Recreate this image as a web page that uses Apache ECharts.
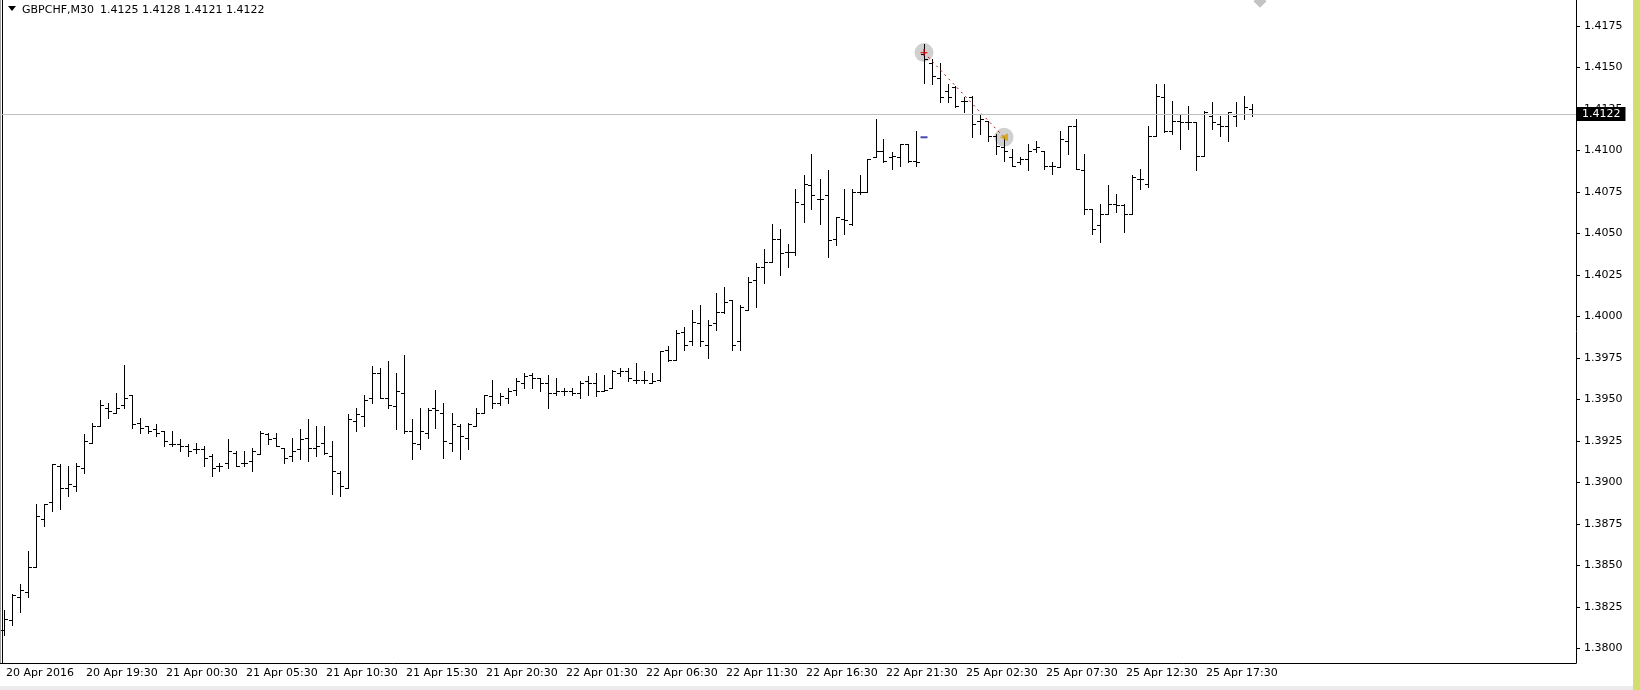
<!DOCTYPE html>
<html>
<head>
<meta charset="utf-8">
<title>GBPCHF,M30</title>
<script src="https://cdn.jsdelivr.net/npm/echarts@6/dist/echarts.min.js"></script>
<style>
html, body { margin: 0; padding: 0; background: #fff; }
#chart { width: 1640px; height: 690px; }
</style>
</head>
<body>
<div id="chart"></div>
<script>
// M30 bars (index 0 = 20 Apr 14:30)
var opens = [1.3811,1.3817,1.3831,1.3834,1.3849,1.3878,1.3888,1.3910,1.3897,1.3898,
  1.3909,1.3924,1.3934,1.3945,1.3942,1.3947,1.3953,1.3936,1.3934,1.3932,
  1.3931,1.3923,1.3923,1.3922,1.3920,1.3920,1.3916,1.3910,1.3912,1.3918,
  1.3912,1.3913,1.3917,1.3929,1.3927,1.3921,1.3916,1.3920,1.3927,1.3921,
  1.3924,1.3916,1.3906,1.3897,1.3937,1.3940,1.3951,1.3966,1.3951,1.3946,
  1.3954,1.3931,1.3923,1.3930,1.3945,1.3942,1.3924,1.3934,1.3927,1.3934,
  1.3942,1.3952,1.3948,1.3951,1.3956,1.3960,1.3965,1.3963,1.3960,1.3954,
  1.3955,1.3955,1.3954,1.3961,1.3960,1.3955,1.3957,1.3966,1.3967,1.3962,
  1.3962,1.3960,1.3962,1.3980,1.3974,1.3991,1.3985,1.3996,1.3983,1.3996,
  1.4003,1.4010,1.3985,1.4004,1.4022,1.4030,1.4033,1.4047,1.4039,1.4039,
  1.4068,1.4079,1.4071,1.4073,1.4047,1.4059,1.4056,1.4075,1.4075,1.4096,
  1.4100,1.4096,1.4096,1.4104,1.4094,1.4158,1.4153,1.4144,1.4136,1.4138,
  1.4130,1.4132,1.4118,1.4118,1.4109,1.4102,1.4096,1.4093,1.4095,1.4101,
  1.4100,1.4091,1.4090,1.4106,1.4115,1.4088,1.4065,1.4055,1.4062,1.4068,
  1.4067,1.4062,1.4083,1.4080,1.4109,1.4132,1.4112,1.4118,1.4117,1.4117,
  1.4097,1.4121,1.4116,1.4115,1.4121,1.4122,1.4125];
var highs = [1.3823,1.3833,1.3839,1.3859,1.3887,1.3887,1.3911,1.3911,1.3910,1.3912,
  1.3929,1.3936,1.3950,1.3948,1.3954,1.3971,1.3953,1.3939,1.3934,1.3935,
  1.3931,1.3931,1.3926,1.3923,1.3924,1.3922,1.3917,1.3912,1.3926,1.3919,
  1.3919,1.3921,1.3931,1.3930,1.3930,1.3921,1.3927,1.3932,1.3938,1.3934,
  1.3934,1.3925,1.3907,1.3941,1.3945,1.3953,1.3970,1.3969,1.3973,1.3966,
  1.3977,1.3938,1.3945,1.3945,1.3956,1.3948,1.3942,1.3935,1.3936,1.3945,
  1.3953,1.3962,1.3954,1.3957,1.3963,1.3966,1.3966,1.3963,1.3965,1.3963,
  1.3957,1.3957,1.3961,1.3964,1.3966,1.3965,1.3968,1.3969,1.3969,1.3972,
  1.3967,1.3966,1.3979,1.3982,1.3992,1.3994,1.4004,1.4007,1.3998,1.4014,
  1.4018,1.4010,1.4007,1.4024,1.4032,1.4041,1.4056,1.4053,1.4044,1.4077,
  1.4085,1.4098,1.4083,1.4088,1.4060,1.4077,1.4077,1.4085,1.4095,1.4119,
  1.4107,1.4099,1.4104,1.4104,1.4112,1.4164,1.4155,1.4153,1.4140,1.4139,
  1.4132,1.4133,1.4122,1.4118,1.4110,1.4108,1.4101,1.4096,1.4104,1.4106,
  1.4100,1.4093,1.4112,1.4115,1.4119,1.4098,1.4065,1.4068,1.4079,1.4074,
  1.4068,1.4085,1.4089,1.4115,1.4140,1.4140,1.4130,1.4122,1.4127,1.4117,
  1.4124,1.4129,1.4121,1.4123,1.4129,1.4133,1.4128];
var lows = [1.3808,1.3814,1.3822,1.3831,1.3849,1.3874,1.3883,1.3884,1.3892,1.3895,
  1.3906,1.3924,1.3934,1.3939,1.3942,1.3945,1.3933,1.3930,1.3930,1.3928,
  1.3922,1.3922,1.3919,1.3916,1.3918,1.3910,1.3904,1.3907,1.3909,1.3910,
  1.3910,1.3907,1.3917,1.3923,1.3922,1.3912,1.3913,1.3914,1.3913,1.3916,
  1.3917,1.3893,1.3892,1.3897,1.3931,1.3934,1.3948,1.3951,1.3945,1.3932,
  1.3930,1.3914,1.3920,1.3927,1.3933,1.3915,1.3919,1.3914,1.3920,1.3934,
  1.3942,1.3945,1.3947,1.3948,1.3953,1.3957,1.3957,1.3955,1.3945,1.3953,
  1.3953,1.3953,1.3951,1.3953,1.3952,1.3955,1.3957,1.3964,1.3961,1.3960,
  1.3960,1.3960,1.3961,1.3973,1.3974,1.3980,1.3983,1.3982,1.3975,1.3992,
  1.4002,1.3980,1.3980,1.4004,1.4006,1.4020,1.4033,1.4025,1.4030,1.4037,
  1.4057,1.4065,1.4056,1.4036,1.4043,1.4050,1.4055,1.4074,1.4075,1.4096,
  1.4093,1.4089,1.4091,1.4093,1.4091,1.4141,1.4140,1.4129,1.4129,1.4126,
  1.4123,1.4108,1.4110,1.4106,1.4098,1.4094,1.4091,1.4092,1.4088,1.4099,
  1.4089,1.4086,1.4090,1.4098,1.4089,1.4062,1.4050,1.4045,1.4062,1.4063,
  1.4051,1.4062,1.4077,1.4078,1.4109,1.4111,1.4110,1.4101,1.4113,1.4088,
  1.4097,1.4113,1.4109,1.4106,1.4115,1.4119,1.4121];
var closes = [1.3818,1.3832,1.3835,1.3849,1.3880,1.3887,1.3911,1.3897,1.3899,1.3910,
  1.3925,1.3934,1.3947,1.3943,1.3945,1.3951,1.3935,1.3933,1.3931,1.3930,
  1.3925,1.3923,1.3922,1.3919,1.3920,1.3915,1.3909,1.3910,1.3919,1.3910,
  1.3912,1.3919,1.3930,1.3926,1.3922,1.3915,1.3919,1.3926,1.3921,1.3922,
  1.3918,1.3907,1.3898,1.3938,1.3941,1.3950,1.3966,1.3951,1.3947,1.3955,
  1.3931,1.3924,1.3931,1.3944,1.3944,1.3925,1.3935,1.3928,1.3935,1.3942,
  1.3953,1.3948,1.3952,1.3955,1.3961,1.3964,1.3963,1.3960,1.3954,1.3955,
  1.3955,1.3954,1.3960,1.3960,1.3955,1.3956,1.3967,1.3967,1.3963,1.3962,
  1.3962,1.3961,1.3979,1.3974,1.3990,1.3983,1.3997,1.3985,1.3995,1.4003,
  1.4009,1.3983,1.4006,1.4021,1.4030,1.4033,1.4047,1.4038,1.4039,1.4069,
  1.4080,1.4073,1.4071,1.4046,1.4060,1.4058,1.4075,1.4075,1.4095,1.4100,
  1.4094,1.4097,1.4104,1.4094,1.4093,1.4155,1.4145,1.4132,1.4132,1.4127,
  1.4130,1.4116,1.4119,1.4109,1.4103,1.4100,1.4091,1.4095,1.4100,1.4102,
  1.4091,1.4091,1.4107,1.4115,1.4089,1.4065,1.4053,1.4062,1.4068,1.4067,
  1.4062,1.4084,1.4083,1.4109,1.4133,1.4112,1.4118,1.4117,1.4117,1.4097,
  1.4123,1.4117,1.4115,1.4123,1.4122,1.4126,1.4122];

// time axis labels, one every 10 bars
var timeLabels = ['20 Apr 2016','20 Apr 19:30','21 Apr 00:30','21 Apr 05:30','21 Apr 10:30',
  '21 Apr 15:30','21 Apr 20:30','22 Apr 01:30','22 Apr 06:30','22 Apr 11:30',
  '22 Apr 16:30','22 Apr 21:30','25 Apr 02:30','25 Apr 07:30','25 Apr 12:30','25 Apr 17:30'];
// price scale labels
var priceTicks = [1.3800,1.3825,1.3850,1.3875,1.3900,1.3925,1.3950,1.3975,
  1.4000,1.4025,1.4050,1.4075,1.4100,1.4125,1.4150,1.4175];

// bid line and trade marks [bar index, price]
var lastPrice = 1.4122;
var tradeOpen = [115, 1.4159];
var tradeClose = [125, 1.4108];
var orderMark = [115, 1.4108];
var topArrow = [157, 1.4190];

var FONT = 'DejaVu Sans';
var nSlots = 197; // bar slots incl. empty room right of the last bar
var slots = [];
for (var i = 0; i < nSlots; i++) slots.push(String(i));

var ohlc = opens.map(function (o, i) {
    return [i, o, highs[i], lows[i], closes[i]];
});
var last = opens.length - 1;

function showTick(index) {
    return index % 10 === 0 && index / 10 < timeLabels.length;
}

// one OHLC bar: vertical high-low, open tick left, close tick right
function renderBar(params, api) {
    var i = api.value(0);
    var pO = api.coord([i, api.value(1)]);
    var x = Math.floor(pO[0]) + 0.5;
    var yO = Math.round(pO[1]) + 0.5;
    var yH = Math.round(api.coord([i, api.value(2)])[1]);
    var yL = Math.round(api.coord([i, api.value(3)])[1]) + 1;
    var yC = Math.round(api.coord([i, api.value(4)])[1]) + 0.5;
    var st = { stroke: '#000', lineWidth: 1 };
    return {
        type: 'group',
        children: [
            { type: 'line', shape: { x1: x, y1: yH, x2: x, y2: yL }, style: st },
            { type: 'line', shape: { x1: x - 3.5, y1: yO, x2: x, y2: yO }, style: st },
            { type: 'line', shape: { x1: x, y1: yC, x2: x + 3.5, y2: yC }, style: st }
        ]
    };
}

var chart = echarts.init(document.getElementById('chart'));
chart.setOption({
    animation: false,
    backgroundColor: '#fff',
    grid: { left: 0, right: 64, top: 0, bottom: 27, outerBoundsMode: 'none' },
    xAxis: {
        type: 'category',
        data: slots,
        boundaryGap: true,
        axisLine: { lineStyle: { color: '#000', width: 1 } },
        axisTick: {
            alignWithLabel: true,
            length: 4,
            interval: showTick,
            lineStyle: { color: '#000' }
        },
        axisLabel: {
            interval: showTick,
            formatter: function (v, index) { return timeLabels[index / 10]; },
            align: 'left',
            padding: [0, 0, 0, 2],
            margin: 5,
            color: '#000',
            fontFamily: FONT,
            fontSize: 11
        },
        splitLine: { show: false }
    },
    yAxis: {
        type: 'value',
        position: 'right',
        min: 1.37913,
        max: 1.41907,
        splitLine: { show: false },
        axisLine: { show: true, lineStyle: { color: '#000', width: 1 } },
        axisTick: { show: true, length: 4, customValues: priceTicks, lineStyle: { color: '#000' } },
        axisLabel: {
            customValues: priceTicks,
            formatter: function (v) { return v.toFixed(4); },
            margin: 8,
            color: '#000',
            fontFamily: FONT,
            fontSize: 11
        }
    },
    series: [
        {
            // grey circles of the trade arrows, under the bars
            type: 'scatter',
            data: [tradeOpen, tradeClose],
            symbol: 'circle',
            symbolSize: 19,
            itemStyle: { color: '#c4c4c4' },
            silent: true,
            z: 1,
            // bid line with its price box on the scale
            markLine: {
                silent: true,
                symbol: 'none',
                precision: 4,
                data: [{ yAxis: lastPrice }],
                lineStyle: { color: '#c0c0c0', type: 'solid', width: 1 },
                label: {
                    position: 'end',
                    formatter: lastPrice.toFixed(4),
                    distance: 1,
                    backgroundColor: '#000',
                    color: '#fff',
                    padding: [2, 5, 1, 5],
                    fontFamily: FONT,
                    fontSize: 11
                }
            }
        },
        {
            type: 'custom',
            data: ohlc,
            renderItem: renderBar,
            encode: { x: 0, y: [1, 2, 3, 4] },
            silent: true,
            z: 2
        },
        {
            // trade history line
            type: 'line',
            data: [tradeOpen, tradeClose],
            symbol: 'none',
            lineStyle: { color: '#c00000', type: [2, 4], width: 1 },
            silent: true,
            z: 3
        },
        {
            type: 'scatter',
            data: [tradeOpen],
            symbol: 'path://M2,0H3V2H5V3H3V5H2V3H0V2H2Z',
            symbolSize: 7,
            itemStyle: { color: '#e00000' },
            silent: true,
            z: 4
        },
        {
            type: 'scatter',
            data: [tradeClose],
            symbol: 'triangle',
            symbolRotate: 90,
            symbolSize: 8,
            itemStyle: { color: '#d9a000' },
            silent: true,
            z: 4
        },
        {
            type: 'scatter',
            data: [orderMark],
            symbol: 'rect',
            symbolSize: [7, 2],
            itemStyle: { color: '#1a1a9a' },
            silent: true,
            z: 4
        },
        {
            type: 'scatter',
            data: [topArrow],
            symbol: 'diamond',
            symbolSize: [13, 13],
            itemStyle: { color: '#b4b4b4' },
            clip: false,
            silent: true,
            z: 4
        }
    ],
    graphic: [
        // header
        { type: 'polygon', shape: { points: [[8, 6], [16, 6], [12, 11]] }, style: { fill: '#000' } },
        { type: 'text', x: 22, y: 10, style: { text: 'GBPCHF,M30', fontFamily: FONT, fontSize: 11, fill: '#000', verticalAlign: 'middle' } },
        {
            type: 'text', x: 100, y: 10,
            style: {
                text: [opens[last], highs[last], lows[last], closes[last]].map(function (v) { return v.toFixed(4); }).join(' '),
                fontFamily: FONT, fontSize: 11, fill: '#000', verticalAlign: 'middle'
            }
        },
        // window frame bits
        { type: 'line', shape: { x1: 0.5, y1: 0, x2: 0.5, y2: 664 }, style: { stroke: '#a0a0a0', lineWidth: 1 } },
        { type: 'line', shape: { x1: 2.5, y1: 0, x2: 2.5, y2: 664 }, style: { stroke: '#000', lineWidth: 1 } },
        { type: 'rect', shape: { x: 1633, y: 0, width: 7, height: 690 }, style: { fill: '#d3df6c' } },
        { type: 'rect', shape: { x: 0, y: 686, width: 1633, height: 4 }, style: { fill: '#ececec' } }
    ]
});
</script>
</body>
</html>
